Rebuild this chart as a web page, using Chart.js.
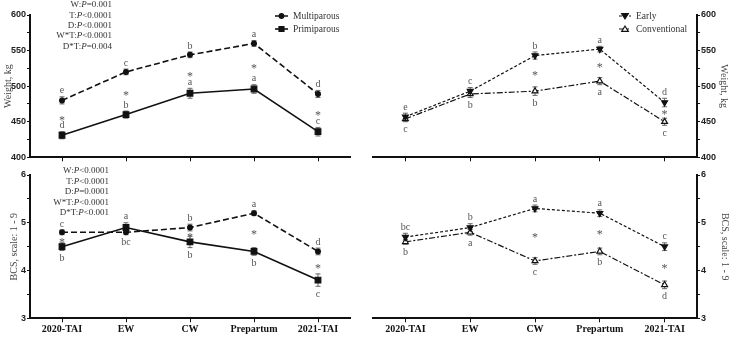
<!DOCTYPE html>
<html>
<head>
<meta charset="utf-8">
<script src="https://cdn.jsdelivr.net/npm/chart.js@4.4.1/dist/chart.umd.min.js"></script>
<style>
body { margin: 0; background: #fff; }
#wrap { position: relative; width: 731px; height: 337px; }
canvas { position: absolute; }
</style>
</head>
<body>
<div id="wrap">
  <canvas id="wTime" width="365" height="165" style="left:0;top:0"></canvas>
  <canvas id="wWean" width="366" height="165" style="left:365px;top:0"></canvas>
  <canvas id="bTime" width="365" height="172" style="left:0;top:165px"></canvas>
  <canvas id="bWean" width="366" height="172" style="left:365px;top:165px"></canvas>
</div>
<script>
const categories = ['2020-TAI', 'EW', 'CW', 'Prepartum', '2021-TAI'];

// body weight, kg
const weightMulti = [480, 520, 544, 560, 489];
const weightPrimi = [431, 460, 490, 496, 436];
const weightEarly = [457, 493, 543, 552, 477];
const weightConv = [454, 489, 493, 507, 450];
const weightMultiSE = [5, 4, 4, 4, 5];
const weightPrimiSE = [5, 5, 7, 6, 6];
const weightEarlySE = [5, 5, 5, 4, 6];
const weightConvSE = [4, 5, 6, 5, 5];

// body condition score, 1-9
const bcsMulti = [4.8, 4.8, 4.9, 5.2, 4.4];
const bcsPrimi = [4.5, 4.9, 4.6, 4.4, 3.8];
const bcsEarly = [4.7, 4.9, 5.3, 5.2, 4.5];
const bcsConv = [4.6, 4.8, 4.2, 4.4, 3.7];
const bcsMultiSE = [0.05, 0.05, 0.07, 0.05, 0.07];
const bcsPrimiSE = [0.08, 0.1, 0.12, 0.08, 0.13];
const bcsEarlySE = [0.08, 0.08, 0.07, 0.07, 0.08];
const bcsConvSE = [0.05, 0.06, 0.07, 0.07, 0.08];

// letters of mean separation and significant differences
const wMultiLetters = ['e', 'c', 'b', 'a', 'd'];
const wPrimiLetters = ['d', 'b', 'a', 'a', 'c'];
const wEarlyLetters = ['e', 'c', 'b', 'a', 'd'];
const wConvLetters = ['c', 'b', 'b', 'a', 'c'];
const bMultiLetters = ['c', 'bc', 'b', 'a', 'd'];
const bPrimiLetters = ['b', 'a', 'b', 'b', 'c'];
const bEarlyLetters = ['bc', 'b', 'a', 'a', 'c'];
const bConvLetters = ['b', 'a', 'c', 'b', 'd'];
const wTimeStars = [true, true, true, true, true];
const wWeanStars = [false, false, true, true, true];
const bTimeStars = [true, false, true, true, true];
const bWeanStars = [false, false, true, true, true];

const wStats = [['W:', '=0.001'], ['T:', '<0.0001'], ['D:', '<0.0001'], ['W*T:', '<0.0001'], ['D*T:', '=0.004']];
const bStats = [['W:', '<0.0001'], ['T:', '<0.0001'], ['D:', '=0.0001'], ['W*T:', '<0.0001'], ['D*T:', '<0.001']];

const SERIF = '"Liberation Serif", "Times New Roman", serif';
const SANS = '"Liberation Sans", Arial, sans-serif';

function marker(ctx, style, x, y, r, open) {
    ctx.beginPath();
    if (style === 'circle') {
        ctx.arc(x, y, r, 0, Math.PI * 2);
    } else if (style === 'rect') {
        ctx.rect(x - r * 0.75, y - r * 0.75, r * 1.5, r * 1.5);
    } else if (style === 'down') {
        ctx.moveTo(x - r, y - r * 0.7); ctx.lineTo(x + r, y - r * 0.7); ctx.lineTo(x, y + r * 0.9);
        ctx.closePath();
    } else {
        ctx.moveTo(x - r, y + r * 0.7); ctx.lineTo(x + r, y + r * 0.7); ctx.lineTo(x, y - r * 0.9);
        ctx.closePath();
    }
    ctx.fillStyle = open ? '#fff' : '#111';
    ctx.fill();
    ctx.lineWidth = 1.2;
    ctx.strokeStyle = '#111';
    ctx.stroke();
}

const annot = {
    id: 'annot',
    beforeDatasetsDraw(chart) {
        const ctx = chart.ctx, ys = chart.scales.y;
        ctx.save();
        ctx.strokeStyle = '#666';
        ctx.lineWidth = 1;
        chart.data.datasets.forEach((ds, i) => {
            chart.getDatasetMeta(i).data.forEach((pt, j) => {
                const top = ys.getPixelForValue(ds.data[j] + ds.errors[j]);
                const bot = ys.getPixelForValue(ds.data[j] - ds.errors[j]);
                ctx.beginPath();
                ctx.moveTo(pt.x, top); ctx.lineTo(pt.x, bot);
                ctx.moveTo(pt.x - 2.5, top); ctx.lineTo(pt.x + 2.5, top);
                ctx.moveTo(pt.x - 2.5, bot); ctx.lineTo(pt.x + 2.5, bot);
                ctx.stroke();
            });
        });
        ctx.restore();
    },
    afterDatasetsDraw(chart, args, opts) {
        const ctx = chart.ctx, ys = chart.scales.y;
        ctx.save();
        ctx.fillStyle = '#555';
        ctx.font = '10px ' + SERIF;
        ctx.textAlign = 'center';
        ctx.textBaseline = 'middle';
        chart.data.datasets.forEach((ds, i) => {
            chart.getDatasetMeta(i).data.forEach((pt, j) => {
                const errPx = Math.abs(ys.getPixelForValue(ds.data[j] + ds.errors[j]) - pt.y);
                const up = ds.sides[j] === 'up';
                const y = up ? pt.y - errPx - 6 : pt.y + errPx + 8;
                ctx.fillText(ds.letters[j], pt.x, y);
            });
        });
        const a = chart.getDatasetMeta(0).data, b = chart.getDatasetMeta(1).data;
        ctx.font = '12px ' + SERIF;
        opts.stars.forEach((s, j) => {
            if (s) ctx.fillText('*', a[j].x, (a[j].y + b[j].y) / 2 + 3);
        });
        ctx.restore();
    },
    afterDraw(chart, args, opts) {
        const ctx = chart.ctx;
        ctx.save();
        ctx.textBaseline = 'middle';
        // legend
        if (opts.legend) {
            const lg = opts.legend;
            chart.data.datasets.forEach((ds, i) => {
                const y = lg.y + i * 13;
                ctx.setLineDash(ds.borderDash || []);
                ctx.strokeStyle = '#111';
                ctx.lineWidth = ds.borderWidth;
                ctx.beginPath();
                ctx.moveTo(lg.x, y); ctx.lineTo(lg.x + lg.len, y);
                ctx.stroke();
                ctx.setLineDash([]);
                marker(ctx, ds.marker, lg.x + lg.len / 2, y, ds.marker === 'circle' ? 2.3 : 3.3, ds.openMarker);
                ctx.fillStyle = '#333';
                ctx.font = '9.5px ' + SERIF;
                ctx.textAlign = 'left';
                ctx.fillText(ds.label, lg.x + lg.len + 5, y + 0.5);
            });
        }
        // model P values, P in italics
        if (opts.stats) {
            const st = opts.stats;
            st.lines.forEach((ln, k) => {
                const y = st.y + k * st.dy;
                ctx.font = '9px ' + SERIF;
                const w1 = ctx.measureText(ln[0]).width, w3 = ctx.measureText(ln[1]).width;
                ctx.font = 'italic 9px ' + SERIF;
                const w2 = ctx.measureText('P').width;
                let x = st.x - (w1 + w2 + w3);
                ctx.fillStyle = '#333';
                ctx.textAlign = 'left';
                ctx.font = '9px ' + SERIF;
                ctx.fillText(ln[0], x, y);
                ctx.font = 'italic 9px ' + SERIF;
                ctx.fillText('P', x + w1, y);
                ctx.font = '9px ' + SERIF;
                ctx.fillText(ln[1], x + w1 + w2, y);
            });
        }
        ctx.restore();
    }
};

function series(label, data, errors, letters, sides, dash, width, mk, open) {
    return {
        label: label,
        data: data,
        errors: errors,
        letters: letters,
        sides: sides,
        marker: mk,
        openMarker: open,
        borderColor: '#111',
        borderWidth: width,
        borderDash: dash,
        pointStyle: mk === 'down' || mk === 'up' ? 'triangle' : mk,
        pointRotation: mk === 'down' ? 180 : 0,
        pointRadius: mk === 'rect' ? 4 : (mk === 'circle' ? 2.4 : 3.4),
        pointBackgroundColor: open ? '#fff' : '#111',
        pointBorderColor: '#111',
        pointBorderWidth: 1.2,
        fill: false,
        tension: 0
    };
}

function makeChart(id, cfg) {
    return new Chart(document.getElementById(id), {
        type: 'line',
        data: { labels: categories, datasets: cfg.datasets },
        plugins: [annot],
        options: {
            responsive: false,
            animation: false,
            events: [],
            layout: { padding: cfg.padding },
            plugins: {
                legend: { display: false },
                tooltip: { enabled: false },
                annot: { stars: cfg.stars, legend: cfg.legend, stats: cfg.stats }
            },
            scales: {
                x: {
                    offset: true,
                    ticks: {
                        display: cfg.xLabels,
                        autoSkip: false,
                        maxRotation: 0,
                        padding: 1,
                        color: '#111',
                        font: { family: SERIF, size: 10, weight: 'bold' }
                    },
                    grid: { drawOnChartArea: false, tickLength: 4, color: '#111', offset: false },
                    border: { color: '#111', width: 2 },
                    afterFit: s => { s.height = cfg.xHeight; }
                },
                y: {
                    position: cfg.yPos,
                    min: cfg.yMin,
                    max: cfg.yMax,
                    ticks: {
                        stepSize: cfg.step,
                        padding: 1,
                        color: '#222',
                        font: { family: SANS, size: 9, weight: 'bold' },
                        callback: v => (Math.abs(v % cfg.major) < 1e-9 ? v : '')
                    },
                    grid: { drawOnChartArea: false, tickLength: 3, color: '#111' },
                    border: { color: '#111', width: 2 },
                    title: {
                        display: true,
                        text: cfg.yTitle,
                        color: '#444',
                        font: { family: SERIF, size: 10 },
                        padding: { top: cfg.titlePad, bottom: 0 }
                    },
                    afterFit: s => { s.width = cfg.yWidth; }
                }
            }
        }
    });
}

const up5 = ['up', 'up', 'up', 'up', 'up'];
const down5 = ['down', 'down', 'down', 'down', 'down'];

makeChart('wTime', {
    datasets: [
        series('Multiparous', weightMulti, weightMultiSE, wMultiLetters, up5, [6, 3], 1.6, 'circle', false),
        series('Primiparous', weightPrimi, weightPrimiSE, wPrimiLetters, up5, [], 1.6, 'rect', false)
    ],
    stars: wTimeStars,
    legend: { x: 275, y: 16, len: 13 },
    stats: { x: 112, y: 5, dy: 10.3, lines: wStats },
    padding: { top: 15, left: 0, right: 15 },
    xLabels: false, xHeight: 7.7,
    yPos: 'left', yMin: 400, yMax: 600, step: 25, major: 50,
    yTitle: 'Weight, kg', titlePad: 2, yWidth: 30
});

makeChart('wWean', {
    datasets: [
        series('Early', weightEarly, weightEarlySE, wEarlyLetters, up5, [3, 2], 1.2, 'down', false),
        series('Conventional', weightConv, weightConvSE, wConvLetters, down5, [6, 2, 2, 2], 1.2, 'up', true)
    ],
    stars: wWeanStars,
    legend: { x: 254, y: 16, len: 12 },
    padding: { top: 15, left: 8, right: 0 },
    xLabels: false, xHeight: 7.7,
    yPos: 'right', yMin: 400, yMax: 600, step: 25, major: 50,
    yTitle: 'Weight, kg', titlePad: 1, yWidth: 34
});

makeChart('bTime', {
    datasets: [
        series('Multiparous', bcsMulti, bcsMultiSE, bMultiLetters, ['up', 'down', 'up', 'up', 'up'], [6, 3], 1.6, 'circle', false),
        series('Primiparous', bcsPrimi, bcsPrimiSE, bPrimiLetters, ['down', 'up', 'down', 'down', 'down'], [], 1.6, 'rect', false)
    ],
    stars: bTimeStars,
    stats: { x: 109, y: 6, dy: 10.5, lines: bStats },
    padding: { top: 10, left: 0, right: 15 },
    xLabels: true, xHeight: 18.7,
    yPos: 'left', yMin: 3, yMax: 6, step: 0.5, major: 1,
    yTitle: 'BCS, scale: 1 - 9', titlePad: 8, yWidth: 30
});

makeChart('bWean', {
    datasets: [
        series('Early', bcsEarly, bcsEarlySE, bEarlyLetters, up5, [3, 2], 1.2, 'down', false),
        series('Conventional', bcsConv, bcsConvSE, bConvLetters, down5, [6, 2, 2, 2], 1.2, 'up', true)
    ],
    stars: bWeanStars,
    padding: { top: 10, left: 8, right: 0 },
    xLabels: true, xHeight: 18.7,
    yPos: 'right', yMin: 3, yMax: 6, step: 0.5, major: 1,
    yTitle: 'BCS, scale: 1 - 9', titlePad: 0, yWidth: 34
});
</script>
</body>
</html>
